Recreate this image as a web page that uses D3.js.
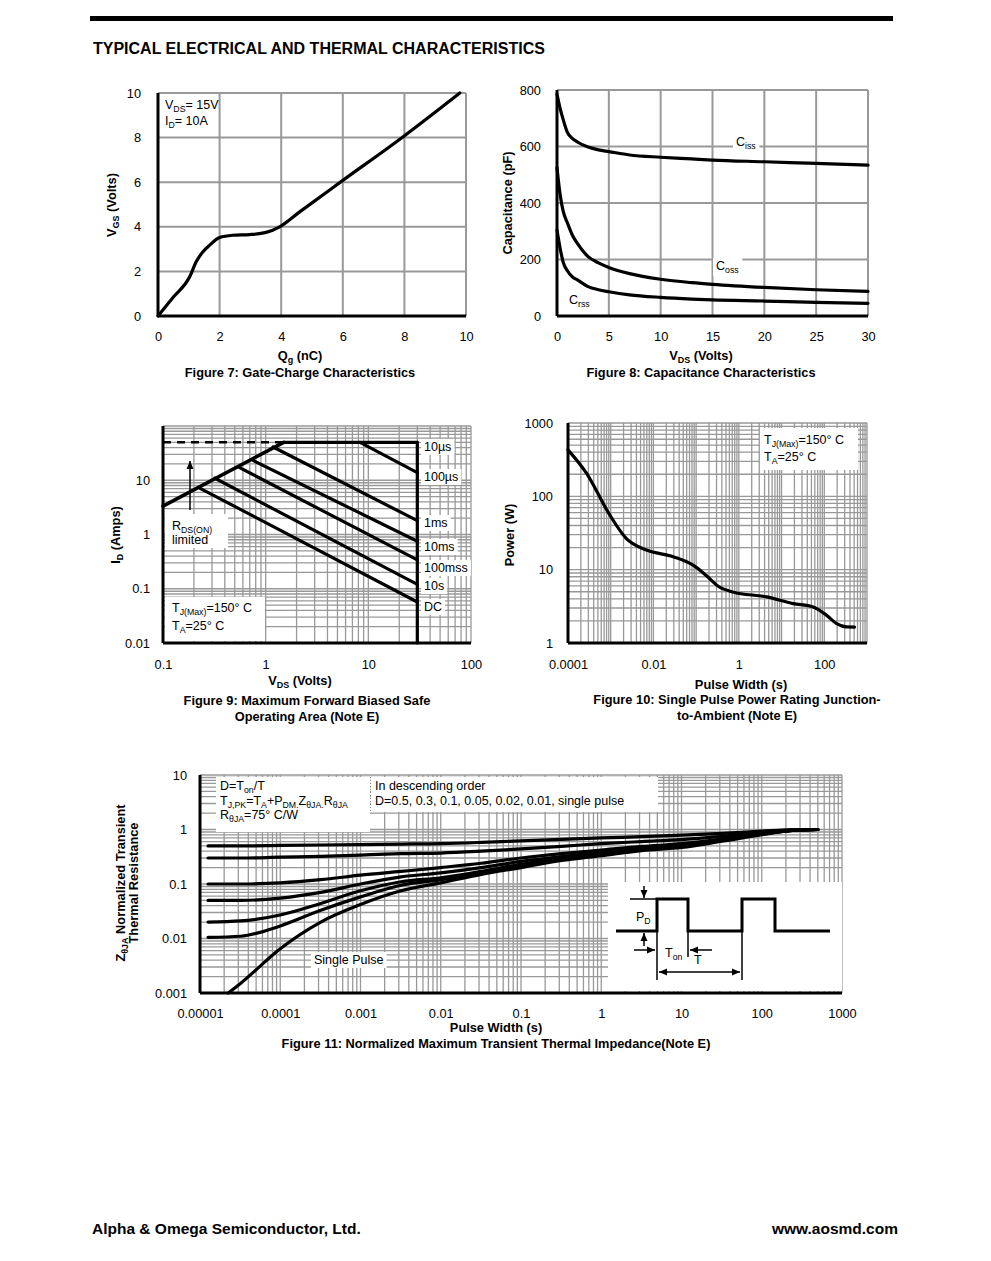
<!DOCTYPE html>
<html>
<head>
<meta charset="utf-8">
<script src="https://cdn.jsdelivr.net/npm/d3@7"></script>
<style>
body { margin: 0; background: #fff; }
text { font-family: Arial, "Liberation Sans", sans-serif; }
</style>
</head>
<body>
<svg id="page" width="991" height="1261"></svg>
<script>
// ---- data ----

// Figure 7: gate charge
var qg  = [0, 0.5, 1.03, 1.24, 1.46, 1.68, 2, 2.43, 2.97, 3.51, 3.95, 4.6, 6, 7.95, 9.8];
var vgs = [0, 0.85, 1.76, 2.43, 2.88, 3.18, 3.52, 3.62, 3.65, 3.75, 4.0, 4.67, 6.08, 8.03, 10];

// Figure 8: capacitance
var vds8 = [0, 0.3, 0.6, 1, 1.5, 2, 3, 4, 5, 7, 10, 13, 15, 20, 25, 30];
var ciss = [785, 735, 695, 650, 628, 615, 598, 588, 582, 570, 562, 556, 552, 546, 540, 534];
var coss = [525, 430, 370, 330, 285, 255, 210, 188, 172, 150, 130, 118, 112, 101, 93, 87];
var crss = [304, 240, 190, 160, 138, 127, 104, 93, 86, 75, 66, 60, 57, 53, 48, 45];

// Figure 9: safe operating area
var soaNames  = ['10\u00b5s', '100\u00b5s', '1ms', '10ms', '100mss', '10s', 'DC'];
var soaStartV = [1.5, 8.3, 1.18, 0.76, 0.54, 0.32, 0.23];
var soaStartI = [50, 50, 41, 23, 17.6, 10.9, 7.1];
var soaEndV   = [30, 30, 30, 30, 30, 30, 30];
var soaEndI   = [50, 13.8, 1.8, 0.75, 0.34, 0.12, 0.057];
var rdsV = [0.1, 1.5];
var rdsI = [3.33, 50];
var idPulseMax = 50;
var vdsMax = 30;

// Figure 10: single pulse power
var pwT = [1e-4, 2.7e-4, 9.5e-4, 2.3e-3, 6.9e-3, 0.029, 0.085, 0.17, 0.35, 0.72, 4.5, 18.6, 55, 112, 195, 330, 510];
var pwP = [430, 207, 55.7, 26.7, 18.5, 15, 11.5, 8.4, 5.8, 4.97, 4.25, 3.45, 3.1, 2.4, 1.84, 1.66, 1.65];

// Figure 11: transient thermal impedance
var thT    = [1.26e-5, 3.2e-5, 1e-4, 3.2e-4, 1e-3, 3.2e-3, 0.01, 0.032, 0.1, 0.32, 1, 3.2, 10, 32, 100, 224, 500];
var zD05   = [0.5, 0.5, 0.51, 0.52, 0.53, 0.54, 0.55, 0.58, 0.62, 0.66, 0.7, 0.74, 0.79, 0.85, 0.93, 0.99, 1.0];
var zD03   = [0.3, 0.3, 0.31, 0.32, 0.34, 0.36, 0.37, 0.40, 0.44, 0.49, 0.55, 0.6, 0.65, 0.75, 0.88, 0.97, 1.0];
var zD01   = [0.1, 0.1, 0.105, 0.12, 0.145, 0.17, 0.2, 0.24, 0.3, 0.36, 0.42, 0.49, 0.55, 0.67, 0.85, 0.96, 1.0];
var zD005  = [0.05, 0.05, 0.055, 0.07, 0.1, 0.135, 0.16, 0.2, 0.26, 0.32, 0.38, 0.45, 0.52, 0.65, 0.84, 0.96, 1.0];
var zD002  = [0.02, 0.021, 0.027, 0.044, 0.075, 0.11, 0.13, 0.17, 0.23, 0.3, 0.36, 0.43, 0.5, 0.64, 0.83, 0.95, 1.0];
var zD001  = [0.0105, 0.011, 0.017, 0.033, 0.058, 0.095, 0.12, 0.16, 0.22, 0.29, 0.35, 0.42, 0.49, 0.63, 0.82, 0.95, 1.0];
var spT    = [2.24e-5, 3.2e-5, 1e-4, 3.2e-4, 1e-3, 3.2e-3, 0.01, 0.032, 0.1, 0.32, 1, 3.2, 10, 32, 100, 224, 500];
var zSingle= [0.001, 0.0015, 0.0065, 0.02, 0.042, 0.075, 0.105, 0.15, 0.2, 0.27, 0.33, 0.41, 0.47, 0.61, 0.8, 0.95, 1.0];

// tick labels
var ticks7x = [0, 2, 4, 6, 8, 10], ticks7y = [0, 2, 4, 6, 8, 10];
var ticks8x = [0, 5, 10, 15, 20, 25, 30], ticks8y = [0, 200, 400, 600, 800];
var ticks9x = [0.1, 1, 10, 100], labels9x = ['0.1', '1', '10', '100'];
var ticks9y = [0.01, 0.1, 1, 10], labels9y = ['0.01', '0.1', '1', '10'];
var ticks10x = [1e-4, 1e-2, 1, 100], labels10x = ['0.0001', '0.01', '1', '100'];
var ticks10y = [1, 10, 100, 1000], labels10y = ['1', '10', '100', '1000'];
var ticks11x = [1e-5, 1e-4, 1e-3, 1e-2, 0.1, 1, 10, 100, 1000];
var labels11x = ['0.00001', '0.0001', '0.001', '0.01', '0.1', '1', '10', '100', '1000'];
var ticks11y = [0.001, 0.01, 0.1, 1, 10], labels11y = ['0.001', '0.01', '0.1', '1', '10'];

var svg = d3.select('#page');
var FS = 12.8;
var GRID = '#999';

// text with _{sub} markup
function rich(g, x, y, str, size, opts) {
    opts = opts || {};
    var t = g.append('text').attr('x', x).attr('y', y)
        .attr('font-size', size)
        .attr('font-weight', opts.bold ? 'bold' : 'normal')
        .attr('text-anchor', opts.anchor || 'start')
        .attr('fill', '#000');
    if (opts.rotate) t.attr('transform', 'rotate(-90,' + x + ',' + y + ')');
    var re = /_\{([^}]*)\}/g, last = 0, m, shift = 0, off = size * 0.25;
    while ((m = re.exec(str)) !== null) {
        if (m.index > last) {
            t.append('tspan').attr('dy', -shift).text(str.slice(last, m.index));
            shift = 0;
        }
        t.append('tspan').attr('dy', off - shift).attr('font-size', size * 0.7).text(m[1]);
        shift = off;
        last = re.lastIndex;
    }
    if (last < str.length) t.append('tspan').attr('dy', -shift).text(str.slice(last));
    if (opts.bg) {
        var b = t.node().getBBox();
        g.insert('rect', function() { return t.node(); })
            .attr('x', b.x - 3).attr('y', b.y - 1)
            .attr('width', b.width + 6).attr('height', b.height + 2)
            .attr('fill', '#fff');
    }
    return t;
}

function whiteBox(g, x0, y0, x1, y1) {
    g.append('rect').attr('x', x0).attr('y', y0)
        .attr('width', x1 - x0).attr('height', y1 - y0).attr('fill', '#fff');
}

function logValues(lo, hi) {
    var v = [];
    var e0 = Math.round(Math.log10(lo)), e1 = Math.round(Math.log10(hi));
    for (var e = e0; e < e1; e++) {
        for (var k = 1; k < 10; k++) v.push(k * Math.pow(10, e));
    }
    v.push(hi);
    return v;
}

function grid(g, x, y, xv, yv, w) {
    var yr = y.range(), xr = x.range();
    g.append('g').selectAll('line').data(xv).enter().append('line')
        .attr('x1', function(d) { return x(d); }).attr('x2', function(d) { return x(d); })
        .attr('y1', yr[0]).attr('y2', yr[1])
        .attr('stroke', GRID).attr('stroke-width', w);
    g.append('g').selectAll('line').data(yv).enter().append('line')
        .attr('y1', function(d) { return y(d); }).attr('y2', function(d) { return y(d); })
        .attr('x1', xr[0]).attr('x2', xr[1])
        .attr('stroke', GRID).attr('stroke-width', w);
}

function axes(g, x, y, xv, xl, yv, yl, padX, padY) {
    var yr = y.range(), xr = x.range();
    var ax = g.append('g').attr('transform', 'translate(0,' + yr[0] + ')')
        .call(d3.axisBottom(x).tickValues(xv).tickSize(0).tickPadding(padX)
            .tickFormat(function(d, i) { return xl[i]; }));
    ax.select('.domain').remove();
    ax.attr('font-size', FS).attr('font-family', null);
    var ay = g.append('g').attr('transform', 'translate(' + xr[0] + ',0)')
        .call(d3.axisLeft(y).tickValues(yv).tickSize(0).tickPadding(padY)
            .tickFormat(function(d, i) { return yl[i]; }));
    ay.select('.domain').remove();
    ay.attr('font-size', FS).attr('font-family', null);
    g.append('line').attr('x1', xr[0]).attr('x2', xr[1]).attr('y1', yr[0]).attr('y2', yr[0])
        .attr('stroke', '#000').attr('stroke-width', 3);
    g.append('line').attr('x1', xr[0]).attr('x2', xr[0]).attr('y1', yr[0]).attr('y2', yr[1])
        .attr('stroke', '#000').attr('stroke-width', 3);
}

function curve(g, x, y, xs, ys, w, c) {
    var pts = xs.map(function(d, i) { return [d, ys[i]]; });
    g.append('path').datum(pts)
        .attr('d', d3.line().x(function(d) { return x(d[0]); }).y(function(d) { return y(d[1]); })
            .curve(c || d3.curveMonotoneX))
        .attr('fill', 'none').attr('stroke', '#000').attr('stroke-width', w || 3)
        .attr('stroke-linejoin', 'round').attr('stroke-linecap', 'round');
}

function arrow(g, x1, y1, x2, y2) {
    g.append('line').attr('x1', x1).attr('y1', y1).attr('x2', x2).attr('y2', y2)
        .attr('stroke', '#000').attr('stroke-width', 1.5);
    var a = Math.atan2(y2 - y1, x2 - x1), L = 8, W = 3.5;
    var p = [[x2, y2],
        [x2 - L * Math.cos(a) + W * Math.sin(a), y2 - L * Math.sin(a) - W * Math.cos(a)],
        [x2 - L * Math.cos(a) - W * Math.sin(a), y2 - L * Math.sin(a) + W * Math.cos(a)]];
    g.append('polygon').attr('points', p.join(' ')).attr('fill', '#000');
}

// ---- page header / footer ----
svg.append('rect').attr('x', 90).attr('y', 16).attr('width', 803).attr('height', 5).attr('fill', '#000');
rich(svg, 93, 54, 'TYPICAL ELECTRICAL AND THERMAL CHARACTERISTICS', 16, {bold: true});
rich(svg, 92, 1234, 'Alpha & Omega Semiconductor, Ltd.', 15.5, {bold: true});
rich(svg, 898, 1234, 'www.aosmd.com', 15.5, {bold: true, anchor: 'end'});

// ---- Figure 7 ----
(function() {
    var g = svg.append('g');
    var x = d3.scaleLinear().domain([0, 10]).range([158, 466]);
    var y = d3.scaleLinear().domain([0, 10]).range([316, 93]);
    grid(g, x, y, ticks7x, ticks7y, 2);
    curve(g, x, y, qg, vgs, 3.2);
    axes(g, x, y, ticks7x, ticks7x, ticks7y, ticks7y, 16, 17);
    rich(g, 165, 109, 'V_{DS}= 15V', 12.5);
    rich(g, 165, 125, 'I_{D}= 10A', 12.5);
    rich(g, 300, 360, 'Q_{g} (nC)', FS, {bold: true, anchor: 'middle'});
    rich(g, 300, 377, 'Figure 7: Gate-Charge Characteristics', FS, {bold: true, anchor: 'middle'});
    rich(g, 116, 205, 'V_{GS} (Volts)', FS, {bold: true, anchor: 'middle', rotate: true});
})();

// ---- Figure 8 ----
(function() {
    var g = svg.append('g');
    var x = d3.scaleLinear().domain([0, 30]).range([557, 868]);
    var y = d3.scaleLinear().domain([0, 800]).range([316, 90]);
    grid(g, x, y, ticks8x, ticks8y, 2);
    curve(g, x, y, vds8, ciss, 3.2);
    curve(g, x, y, vds8, coss, 3.2);
    curve(g, x, y, vds8, crss, 3.2);
    axes(g, x, y, ticks8x, ticks8x, ticks8y, ticks8y, 16, 16);
    rich(g, 736, 146, 'C_{iss}', 12.5, {bg: true});
    rich(g, 716, 270, 'C_{oss}', 12.5, {bg: true});
    rich(g, 569, 304, 'C_{rss}', 12.5);
    rich(g, 701, 360, 'V_{DS} (Volts)', FS, {bold: true, anchor: 'middle'});
    rich(g, 701, 377, 'Figure 8: Capacitance Characteristics', FS, {bold: true, anchor: 'middle'});
    rich(g, 512, 203, 'Capacitance (pF)', FS, {bold: true, anchor: 'middle', rotate: true});
})();

// ---- Figure 9 ----
(function() {
    var g = svg.append('g');
    var x = d3.scaleLog().domain([0.1, 100]).range([163, 471]);
    var y = d3.scaleLog().domain([0.01, 100]).range([643, 426]);
    grid(g, x, y, logValues(0.1, 100), logValues(0.01, 100), 1.3);
    whiteBox(g, 165, 514, 228, 548);
    whiteBox(g, 165, 597, 265, 641);
    rich(g, 172, 530, 'R_{DS(ON)}', 12.5);
    rich(g, 172, 544, 'limited', 12.5);
    rich(g, 172, 612, 'T_{J(Max)}=150\u00b0  C', 12.5);
    rich(g, 172, 630, 'T_{A}=25\u00b0  C', 12.5);
    arrow(g, 190, 510, 190, 461);

    // dashed pulse current limit up to RDS(on) line
    g.append('line').attr('x1', x(0.1)).attr('x2', x(rdsV[1]))
        .attr('y1', y(idPulseMax)).attr('y2', y(idPulseMax))
        .attr('stroke', '#000').attr('stroke-width', 2.5).attr('stroke-dasharray', '8,6');
    curve(g, x, y, rdsV, rdsI, 3.5, d3.curveLinear);
    soaNames.forEach(function(n, i) {
        curve(g, x, y, [soaStartV[i], soaEndV[i]], [soaStartI[i], soaEndI[i]], 3.2, d3.curveLinear);
    });
    curve(g, x, y, [vdsMax, vdsMax], [idPulseMax, 0.01], 3.2, d3.curveLinear);

    var labelY = [451, 481, 527, 551, 572, 590, 611];
    soaNames.forEach(function(n, i) {
        rich(g, 424, labelY[i], n, 12.5, {bg: true});
    });
    axes(g, x, y, ticks9x, labels9x, ticks9y, labels9y, 17, 13);
    rich(g, 300, 685, 'V_{DS} (Volts)', FS, {bold: true, anchor: 'middle'});
    rich(g, 307, 705, 'Figure 9: Maximum Forward Biased Safe', FS, {bold: true, anchor: 'middle'});
    rich(g, 307, 721, 'Operating Area (Note E)', FS, {bold: true, anchor: 'middle'});
    rich(g, 120, 535, 'I_{D} (Amps)', FS, {bold: true, anchor: 'middle', rotate: true});
})();

// ---- Figure 10 ----
(function() {
    var g = svg.append('g');
    var x = d3.scaleLog().domain([1e-4, 1e3]).range([568, 867]);
    var y = d3.scaleLog().domain([1, 1000]).range([643, 423]);
    grid(g, x, y, logValues(1e-4, 1e3), logValues(1, 1000), 1.3);
    whiteBox(g, 760, 428, 858, 470);
    rich(g, 764, 444, 'T_{J(Max)}=150\u00b0  C', 12.5);
    rich(g, 764, 461, 'T_{A}=25\u00b0  C', 12.5);
    curve(g, x, y, pwT, pwP, 3.2);
    axes(g, x, y, ticks10x, labels10x, ticks10y, labels10y, 17, 15);
    rich(g, 741, 689, 'Pulse Width (s)', FS, {bold: true, anchor: 'middle'});
    rich(g, 737, 704, 'Figure 10: Single Pulse Power Rating Junction-', FS, {bold: true, anchor: 'middle'});
    rich(g, 737, 720, 'to-Ambient (Note E)', FS, {bold: true, anchor: 'middle'});
    rich(g, 514, 535, 'Power (W)', FS, {bold: true, anchor: 'middle', rotate: true});
})();

// ---- Figure 11 ----
(function() {
    var g = svg.append('g');
    var x = d3.scaleLog().domain([1e-5, 1e3]).range([200, 842]);
    var y = d3.scaleLog().domain([0.001, 10]).range([993, 775]);
    grid(g, x, y, logValues(1e-5, 1e3), logValues(0.001, 10), 1.3);

    whiteBox(g, 216, 777, 370, 832);
    whiteBox(g, 371, 777, 658, 812);
    g.append('line').attr('x1', 370.5).attr('x2', 370.5).attr('y1', 777).attr('y2', 812)
        .attr('stroke', '#888').attr('stroke-width', 1).attr('stroke-dasharray', '1,2');
    rich(g, 220, 790, 'D=T_{on}/T', 12.5);
    rich(g, 220, 805, 'T_{J,PK}=T_{A}+P_{DM.}Z_{\u03b8JA.}R_{\u03b8JA}', 12.5);
    rich(g, 220, 819, 'R_{\u03b8JA}=75\u00b0  C/W', 12.5);
    rich(g, 375, 790, 'In descending order', 12.5);
    rich(g, 375, 805, 'D=0.5, 0.3, 0.1, 0.05, 0.02, 0.01, single pulse', 12.5);

    [zD05, zD03, zD01, zD005, zD002, zD001].forEach(function(z) {
        curve(g, x, y, thT, z, 3.2);
    });
    curve(g, x, y, spT, zSingle, 3.2);
    rich(g, 314, 964, 'Single Pulse', 12.5, {bg: true});

    // pulse waveform inset
    whiteBox(g, 608, 882, 842, 991);
    var lo = 931, hi = 899;
    g.append('path')
        .attr('d', 'M616,' + lo + 'H657V' + hi + 'H688V' + lo + 'H742V' + hi + 'H775V' + lo + 'H830')
        .attr('fill', 'none').attr('stroke', '#000').attr('stroke-width', 3);
    g.append('line').attr('x1', 630).attr('x2', 657).attr('y1', hi).attr('y2', hi)
        .attr('stroke', '#000').attr('stroke-width', 1.5);
    [[657, 980], [688, 957], [742, 980]].forEach(function(v) {
        g.append('line').attr('x1', v[0]).attr('x2', v[0]).attr('y1', lo).attr('y2', v[1])
            .attr('stroke', '#000').attr('stroke-width', 1.5);
    });
    arrow(g, 644, 886, 644, 898);
    arrow(g, 644, 946, 644, 933);
    arrow(g, 634, 950, 655, 950);
    arrow(g, 712, 950, 690, 950);
    arrow(g, 700, 972, 740, 972);
    arrow(g, 700, 972, 659, 972);
    rich(g, 636, 921, 'P_{D}', 12.5);
    rich(g, 665, 957, 'T_{on}', 12.5);
    rich(g, 694, 964, 'T', 12.5);

    axes(g, x, y, ticks11x, labels11x, ticks11y, labels11y, 16, 13);
    rich(g, 496, 1032, 'Pulse Width (s)', FS, {bold: true, anchor: 'middle'});
    rich(g, 496, 1048, 'Figure 11: Normalized Maximum Transient Thermal Impedance(Note E)', FS, {bold: true, anchor: 'middle'});
    rich(g, 125, 883, 'Z_{\u03b8JA} Normalized Transient', FS, {bold: true, anchor: 'middle', rotate: true});
    rich(g, 138, 883, 'Thermal Resistance', FS, {bold: true, anchor: 'middle', rotate: true});
})();
</script>
</body>
</html>
